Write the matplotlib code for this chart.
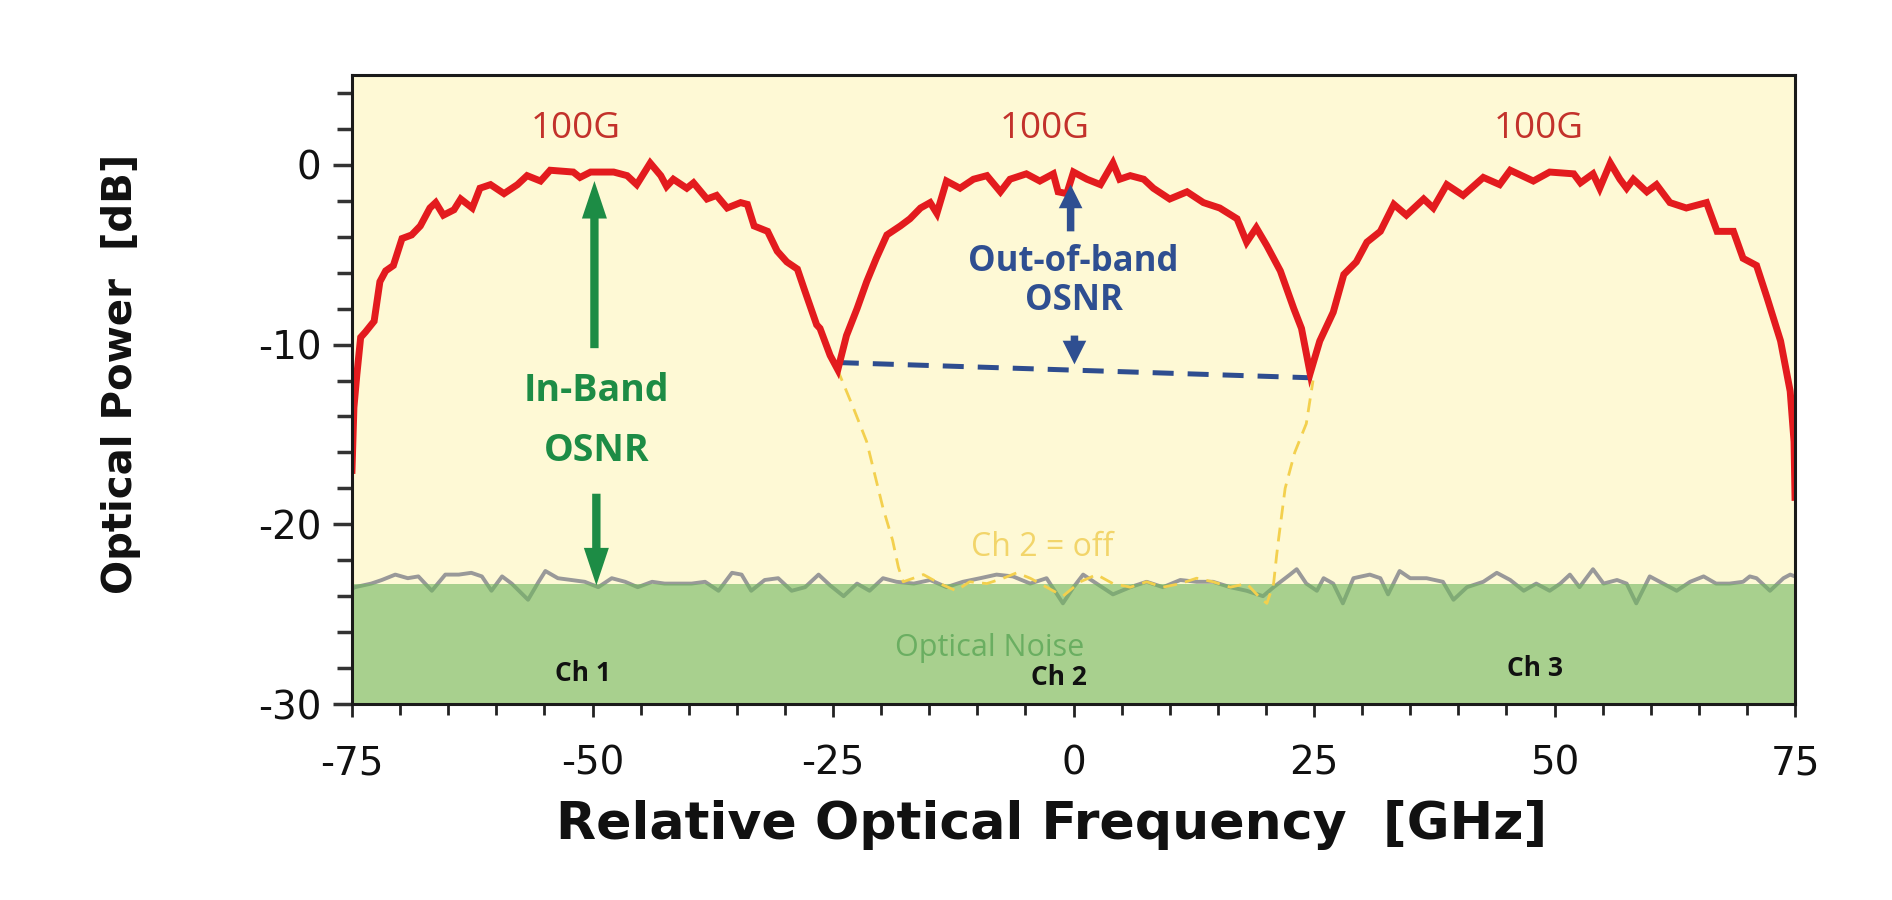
import matplotlib
matplotlib.use("Agg")
import matplotlib.pyplot as plt
from matplotlib.ticker import MultipleLocator

# ---------------- data ----------------
# red: three 100G channel spectra (Ch1, Ch2, Ch3)
sig_x = [-75.0, -74.8, -74.5, -74.1, -73.6, -72.7, -72.1, -71.5, -70.7, -69.8, -68.8, -67.9,
         -66.9, -66.3, -65.5, -64.4, -63.7, -62.5, -61.7, -60.6, -59.2, -57.8, -56.8, -55.4,
         -54.4, -52.0, -51.3, -50.2, -47.8, -46.4, -45.4, -44.0, -42.9, -42.3, -41.6, -40.2,
         -39.5, -38.1, -37.1, -36.0, -34.6, -33.9, -33.2, -31.8, -30.8, -29.8, -28.7, -28.0,
         -26.7, -26.35, -25.3, -24.5,
         -23.6, -22.5, -21.5, -20.5, -19.4, -18.0, -17.0, -15.9, -14.9, -14.2, -13.2, -11.8,
         -10.4, -9.0, -7.6, -6.6, -4.9, -3.5, -2.1, -1.6, -0.7, 0.0, 1.4, 2.8, 4.1, 4.8, 5.9,
         7.3, 8.3, 10.0, 11.8, 13.5, 15.2, 17.0, 18.0, 19.0, 20.1, 21.5, 22.9, 23.7, 24.6,
         25.6, 27.0, 28.1, 29.4, 30.5, 31.9, 33.3, 34.6, 36.4, 37.4, 38.8, 40.5, 42.6, 44.3,
         45.4, 47.8, 49.5, 52.0, 52.7, 54.0, 54.7, 55.8, 56.8, 57.5, 58.2, 59.6, 60.6, 62.0,
         63.7, 65.8, 66.9, 68.6, 69.6, 71.0, 72.1, 73.5, 74.5, 74.9, 75.0]
sig_db = [-17.0, -13.5, -11.7, -9.6, -9.3, -8.7, -6.5, -5.9, -5.6, -4.1, -3.9, -3.4,
          -2.4, -2.1, -2.8, -2.5, -1.9, -2.4, -1.3, -1.1, -1.6, -1.1, -0.6, -0.9,
          -0.3, -0.4, -0.7, -0.4, -0.4, -0.6, -1.1, 0.1, -0.6, -1.2, -0.8, -1.3,
          -1.0, -1.9, -1.7, -2.4, -2.1, -2.2, -3.4, -3.7, -4.8, -5.4, -5.8, -6.9,
          -8.9, -9.1, -10.6, -11.4,
          -9.5, -8.0, -6.5, -5.2, -3.9, -3.4, -3.0, -2.4, -2.1, -2.7, -0.9, -1.3,
          -0.8, -0.6, -1.5, -0.8, -0.5, -0.9, -0.5, -1.5, -1.6, -0.4, -0.8, -1.1, 0.1, -0.8, -0.6,
          -0.8, -1.3, -1.9, -1.5, -2.1, -2.4, -3.0, -4.3, -3.5, -4.5, -5.9, -8.0, -9.1, -11.6,
          -9.8, -8.2, -6.1, -5.4, -4.3, -3.7, -2.2, -2.8, -1.9, -2.4, -1.1, -1.7, -0.7, -1.1,
          -0.3, -0.9, -0.4, -0.5, -1.0, -0.5, -1.3, 0.1, -0.8, -1.3, -0.8, -1.5, -1.1, -2.1,
          -2.4, -2.1, -3.7, -3.7, -5.2, -5.6, -7.4, -9.8, -12.6, -15.4, -18.5]

# optical noise floor trace
noise_x = [-75.0, -74.7, -73.0, -71.9, -70.5, -69.2, -68.1, -66.7, -65.3, -63.9, -62.6, -61.5,
           -60.5, -59.4, -58.4, -56.7, -55.6, -54.9, -53.6, -52.2, -50.8, -49.4, -48.0, -46.6,
           -45.3, -43.8, -42.5, -41.1, -39.7, -38.3, -36.9, -35.5, -34.5, -33.5, -32.1, -30.7,
           -29.3, -27.9, -26.5, -25.3, -23.9, -22.5, -21.2, -19.8, -18.4, -16.6, -14.9, -13.2,
           -11.5, -9.7, -8.0, -6.3, -4.5, -2.8, -1.1, 0.0, 1.0, 2.4, 4.1, 5.9, 7.6, 9.3, 11.1,
           12.8, 14.5, 16.3, 18.0, 19.7, 20.8, 22.5, 23.2, 24.2, 25.3, 26.0, 27.0, 28.0, 29.1,
           30.8, 31.9, 32.7, 33.9, 35.0, 36.7, 38.4, 39.5, 40.9, 42.6, 44.0, 45.4, 46.8, 48.1,
           49.5, 50.6, 51.6, 52.6, 54.0, 55.1, 56.5, 57.5, 58.5, 59.9, 61.3, 62.7, 64.1, 65.5,
           66.8, 68.2, 69.6, 70.3, 71.0, 72.4, 73.8, 74.5, 75.0]
noise_db = [-23.6, -23.5, -23.3, -23.1, -22.8, -23.0, -22.9, -23.7, -22.8, -22.8, -22.7, -22.9,
            -23.7, -22.9, -23.3, -24.2, -23.2, -22.6, -23.0, -23.1, -23.2, -23.5, -23.0, -23.2,
            -23.5, -23.2, -23.3, -23.3, -23.3, -23.2, -23.7, -22.7, -22.8, -23.7, -23.1, -23.0,
            -23.7, -23.5, -22.8, -23.4, -24.0, -23.3, -23.7, -23.0, -23.2, -23.3, -23.1, -23.5,
            -23.2, -23.0, -22.8, -22.9, -23.3, -23.0, -24.4, -23.5, -22.8, -23.3, -23.9, -23.5,
            -23.2, -23.5, -23.1, -23.2, -23.2, -23.5, -23.7, -24.0, -23.5, -22.8, -22.5, -23.3,
            -23.7, -23.0, -23.3, -24.4, -23.0, -22.8, -23.0, -23.9, -22.6, -23.0, -23.0, -23.2,
            -24.2, -23.5, -23.2, -22.7, -23.1, -23.7, -23.3, -23.7, -23.3, -22.8, -23.5, -22.5,
            -23.3, -23.1, -23.3, -24.4, -22.9, -23.3, -23.7, -23.2, -22.9, -23.3, -23.3, -23.2,
            -22.9, -23.0, -23.7, -23.0, -22.8, -22.9]

# Ch 2 switched off (yellow dashed)
off_x = [-24.6, -22.9, -21.5, -19.8, -18.8, -18.2, -17.7, -15.6, -13.9, -12.2, -10.8, -9.0,
         -7.3, -5.9, -4.5, -2.8, -1.1, 0.7, 2.4, 4.1, 5.9, 7.6, 9.3, 11.1, 12.8, 14.5, 16.3,
         18.0, 19.4, 20.1, 20.8, 21.1, 21.3, 22.0, 23.0, 24.2, 24.9]
off_db = [-11.3, -13.5, -15.4, -19.1, -20.9, -22.4, -23.2, -22.8, -23.3, -23.7, -23.2, -23.3,
          -23.0, -22.7, -23.0, -23.5, -24.0, -23.2, -22.8, -23.3, -23.5, -23.2, -23.5, -23.3,
          -23.0, -23.2, -23.5, -23.3, -24.1, -24.4, -23.3, -21.8, -20.9, -18.0, -16.0, -14.4, -12.0]

noise_level = -23.3            # top of the shaded optical-noise area
oob_x = [-24.5, 24.8]          # out-of-band reference line
oob_db = [-11.0, -11.85]

channel_centres = [-50, 0, 50]
channel_names = ["Ch 1", "Ch 2", "Ch 3"]
rate_label = "100G"

x_ticks = [-75, -50, -25, 0, 25, 50, 75]
y_ticks = [-30, -20, -10, 0]

# ---------------- figure ----------------
W, H = 1892, 900
fig = plt.figure(figsize=(W / 100, H / 100), dpi=100)
ax = fig.add_axes([352 / W, 1 - 704 / H, (1795 - 352) / W, (704 - 75) / H])
ax.set_facecolor("#fef9d5")
ax.set_xlim(-75, 75)
ax.set_ylim(-30, 5)

# noise trace (gray) under a translucent green fill
ax.plot(noise_x, noise_db, color="#999999", lw=2.8, zorder=2)
ax.fill_between([-75, 75], -30, noise_level, color=(112 / 255, 182 / 255, 95 / 255),
                alpha=0.6, lw=0, zorder=3)

# Ch2 off trace
ax.plot(off_x, off_db, color="#f3d04e", lw=2.0, ls=(0, (5, 3)), zorder=4)

# signal
ax.plot(sig_x, sig_db, color="#e31b1e", lw=5.0, solid_joinstyle="miter", zorder=6)

# out-of-band OSNR reference line
ax.plot(oob_x, oob_db, color="#2e4d8f", lw=3.6, ls=(0, (4.2, 2.8)), zorder=5)

# arrows
def arrow(tail, tip, color, hl, hw, tw):
    ax.annotate("", xy=tip, xytext=tail, zorder=7,
                arrowprops=dict(arrowstyle=f"simple,head_length={hl},head_width={hw},tail_width={tw}",
                                mutation_scale=20, color=color, lw=0, shrinkA=0, shrinkB=0))

green = "#1d8c45"
blue = "#2f4f91"
arrow((-49.8, -10.2), (-49.8, -0.9), green, 1.35, 0.9, 0.3)
arrow((-49.6, -18.3), (-49.6, -23.4), green, 1.35, 0.9, 0.3)
arrow((-0.3, -3.7), (-0.3, -1.1), blue, 0.85, 0.85, 0.27)
arrow((0.1, -9.5), (0.1, -11.1), blue, 0.85, 0.85, 0.27)

# texts
calib = ["Open Sans", "DejaVu Sans"]
for cx, dx in zip(channel_centres, [-1.7, -3.0, -1.6]):
    ax.text(cx + dx, 2.0, rate_label, color="#c3322b", fontsize=26.5, family=calib,
            ha="center", va="center", zorder=8)
ax.text(-49.6, -12.6, "In-Band", color=green, fontsize=27, family=calib, weight="bold",
        ha="center", va="center", zorder=8)
ax.text(-49.6, -15.9, "OSNR", color=green, fontsize=27, family=calib, weight="bold",
        ha="center", va="center", zorder=8)
ax.text(0.0, -5.4, "Out-of-band", color=blue, fontsize=25, family=calib, weight="bold",
        ha="center", va="center", zorder=8)
ax.text(0.0, -7.6, "OSNR", color=blue, fontsize=25, family=calib, weight="bold",
        ha="center", va="center", zorder=8)
ax.text(-3.3, -21.3, "Ch 2 = off", color="#f2d56a", fontsize=23, family=calib,
        ha="center", va="center", zorder=8)
ax.text(-8.7, -26.9, "Optical Noise", color="#5fa85a", alpha=0.85, fontsize=22, family=calib,
        ha="center", va="center", zorder=8)
for cx, dx, cy, name in zip(channel_centres, [-1.0, -1.5, -2.0], [-28.3, -28.55, -28.0], channel_names):
    ax.text(cx + dx, cy, name, color="#111111", fontsize=19, family=calib, weight="bold",
            ha="center", va="center", zorder=8)

# axes styling
ax.set_xticks(x_ticks)
ax.set_yticks(y_ticks)
ax.xaxis.set_minor_locator(MultipleLocator(5))
ax.yaxis.set_minor_locator(MultipleLocator(2))
ax.tick_params(axis="x", which="major", length=9, width=2, color="#222222", direction="out",
               labelsize=28, pad=20)
ax.tick_params(axis="x", which="minor", length=8, width=2, color="#222222", direction="out")
ax.tick_params(axis="y", which="major", length=14, width=2.5, color="#333333", direction="out",
               labelsize=28, pad=8)
ax.tick_params(axis="y", which="minor", length=11, width=2.5, color="#333333", direction="out")
ax.set_xticklabels([f"{t}" if t >= 0 else f"-{abs(t)}" for t in x_ticks])
ax.set_yticklabels([f"{t}" if t >= 0 else f"-{abs(t)}" for t in y_ticks])
for lab in ax.get_xticklabels() + ax.get_yticklabels():
    lab.set_family("DejaVu Sans")
    lab.set_color("#111111")

for s in ax.spines.values():
    s.set_linewidth(2.2)
    s.set_color("#1a1a1a")
    s.set_zorder(9)

ax.set_xlabel("Relative Optical Frequency  [GHz]", fontsize=37.5, weight="bold",
              family="DejaVu Sans", color="#111111")
ax.xaxis.label.set_va("baseline")
ax.xaxis.set_label_coords(0.485, -0.2146)
ax.set_ylabel("Optical Power  [dB]", fontsize=29, weight="bold", family="DejaVu Sans",
              color="#111111")
ax.yaxis.label.set_va("center")
ax.yaxis.set_label_coords(-0.160, 0.525)

fig.savefig("out.png", dpi=100, facecolor="white")
